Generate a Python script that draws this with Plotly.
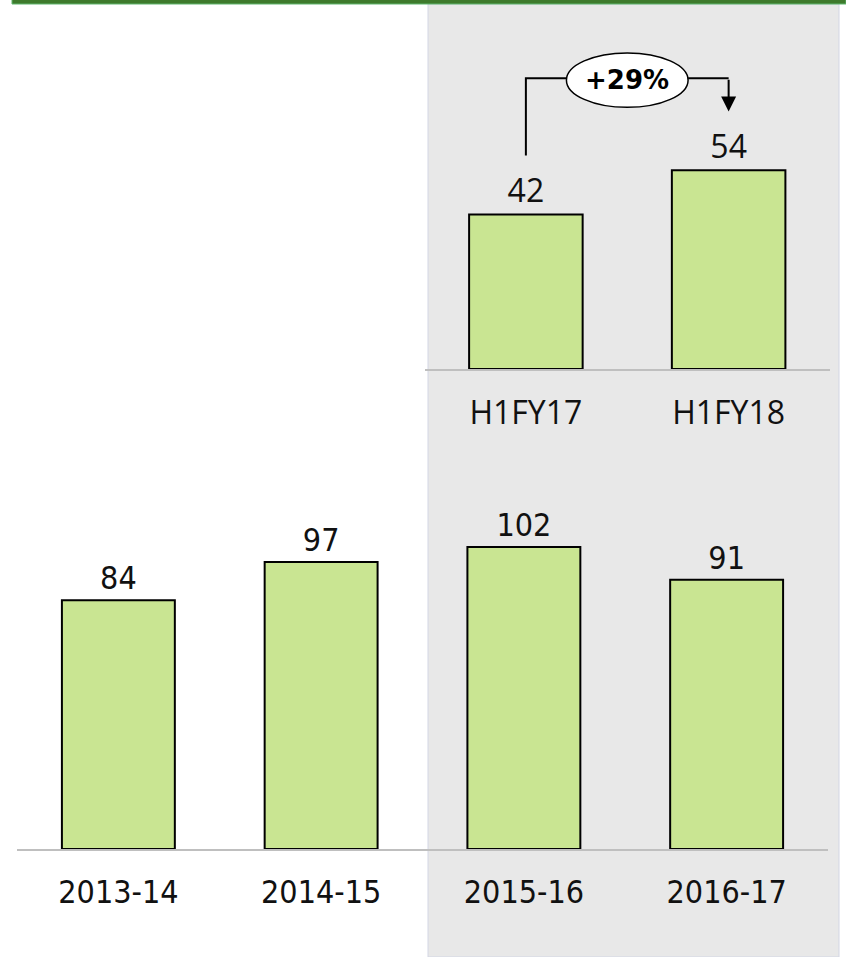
import plotly.graph_objects as go

# ---- data ----
annual_cats = ["2013-14", "2014-15", "2015-16", "2016-17"]
annual_vals = [84, 97, 102, 91]
half_cats = ["H1FY17", "H1FY18"]
half_vals = [42, 54]

W, H = 846, 957
BAR_FILL = "#c9e592"
COND = "DejaVu Sans Condensed, Liberation Sans Narrow, sans-serif"
WIDE = "Open Sans, Noto Sans, sans-serif"

fig = go.Figure()

fig.add_trace(go.Bar(
    x=list(range(len(annual_cats))), y=annual_vals, width=0.557,
    marker=dict(color=BAR_FILL, line=dict(color="black", width=2)),
    text=[str(v) for v in annual_vals], textposition="outside",
    textfont=dict(family=COND, size=32, color="#111111"),
    cliponaxis=False, xaxis="x", yaxis="y", hoverinfo="skip",
))
fig.add_trace(go.Bar(
    x=list(range(len(half_cats))), y=half_vals, width=0.56,
    marker=dict(color=BAR_FILL, line=dict(color="black", width=2)),
    text=[str(v) for v in half_vals], textposition="outside",
    textfont=dict(family=WIDE, size=32, color="#111111"),
    cliponaxis=False, xaxis="x2", yaxis="y2", hoverinfo="skip",
))

fig.update_layout(
    width=W, height=H, autosize=False,
    margin=dict(l=0, r=0, t=0, b=0, pad=0),
    paper_bgcolor="white", plot_bgcolor="rgba(0,0,0,0)",
    showlegend=False, bargap=0,
    xaxis=dict(domain=[17 / W, 828 / W], range=[-0.5, 3.5],
               tickvals=list(range(len(annual_cats))), ticktext=annual_cats,
               tickfont=dict(family=COND, size=32, color="#111111"),
               showline=True, linecolor="#bfbfbf", linewidth=2,
               ticks="", showgrid=False, zeroline=False, anchor="y",
               layer="below traces", ticklabelstandoff=14, fixedrange=True),
    yaxis=dict(domain=[1 - 849 / H, 1 - 523.4 / H], range=[0, 110],
               visible=False, anchor="x", fixedrange=True),
    xaxis2=dict(domain=[424.5 / W, 830 / W], range=[-0.5, 1.5],
                tickvals=list(range(len(half_cats))), ticktext=half_cats,
                tickfont=dict(family=WIDE, size=32, color="#111111"),
                showline=True, linecolor="#bfbfbf", linewidth=2,
                ticks="", showgrid=False, zeroline=False, anchor="y2",
                layer="below traces", ticklabelstandoff=15, fixedrange=True),
    yaxis2=dict(domain=[1 - 369 / H, 1 - 4.7 / H], range=[0, 99],
                visible=False, anchor="x2", fixedrange=True),
)

# background panel and top rule
fig.add_shape(type="rect", xref="paper", yref="paper",
              x0=428 / W, x1=839 / W, y0=0, y1=1 - 4 / H,
              fillcolor="#e8e8e8", line=dict(color="#d3d6e4", width=1), layer="below")
fig.add_shape(type="rect", xref="paper", yref="paper",
              x0=12 / W, x1=1, y0=1 - 4 / H, y1=1.01,
              fillcolor="#3e7a2c", line=dict(color="#5fb56c", width=1), layer="above")

# growth bracket
y_start = half_vals[0] + 16
y_top = max(half_vals) + 25
y_tip = half_vals[1] + 16
ex0, ex1 = 0.2, 0.8
fig.add_shape(type="path", xref="x2", yref="y2",
              path=f"M 0,{y_start} L 0,{y_top} L {ex0},{y_top}",
              line=dict(color="black", width=2), layer="above")
fig.add_shape(type="line", xref="x2", yref="y2",
              x0=ex1, x1=1, y0=y_top, y1=y_top,
              line=dict(color="black", width=2), layer="above")
fig.add_shape(type="circle", xref="x2", yref="y2",
              x0=ex0, x1=ex1, y0=y_top - 7.9, y1=y_top + 6.9,
              fillcolor="white", line=dict(color="black", width=1.5), layer="above")
fig.add_annotation(x=1, y=y_tip, ax=1, ay=y_top, xref="x2", yref="y2",
                   axref="x2", ayref="y2", text="", showarrow=True,
                   arrowhead=2, arrowsize=1.5, arrowwidth=2, arrowcolor="black",
                   standoff=0, startstandoff=0)
growth = round((half_vals[1] / half_vals[0] - 1) * 100)
fig.add_annotation(x=0.5, y=y_top - 0.6, xref="x2", yref="y2",
                   text=f"<b>+{growth}%</b>", showarrow=False,
                   font=dict(family="DejaVu Sans", size=26, color="black"))

fig.write_html("out.html",
               config={"displayModeBar": False, "staticPlot": True},
               post_script="document.body.style.margin='0';document.body.style.padding='0';")
